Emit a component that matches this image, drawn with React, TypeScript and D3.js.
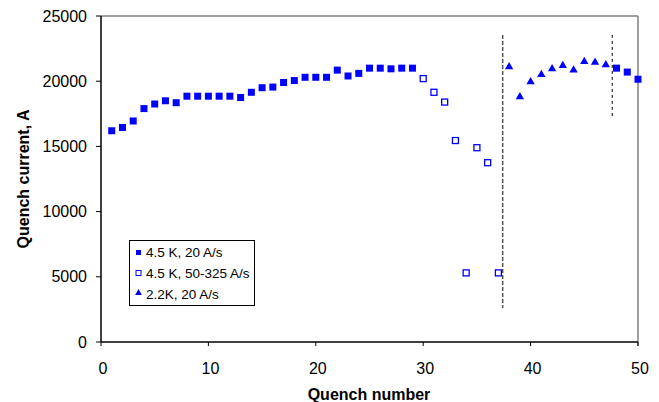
import React from "react";
import * as d3 from "d3";

const filledX = [1,2,3,4,5,6,7,8,9,10,11,12,13,14,15,16,17,18,19,20,21,22,23,24,25,26,27,28,29,48,49,50];
const filledY = [16200,16450,16950,17900,18250,18500,18350,18850,18850,18850,18850,18850,18750,19150,19500,19550,19900,20050,20300,20300,20300,20850,20400,20600,21000,21000,20950,21000,21000,21000,20700,20150];
const hollowX = [30,31,32,33,34,35,36,37];
const hollowY = [20200,19150,18400,15450,5300,14900,13750,5300];
const triX = [38,39,40,41,42,43,44,45,46,47];
const triY = [21100,18800,19950,20500,20950,21200,20850,21500,21450,21250];
const xTicks = [0,10,20,30,40,50];
const yTicks = [0,5000,10000,15000,20000,25000];
const legendLabels = ["4.5 K, 20 A/s", "4.5 K, 50-325 A/s", "2.2K, 20 A/s"];
const dividerX = [37.4, 47.6];
const dividerTop = [23550, 23550];
const dividerBottom = [2600, 17250];

const BLUE = "#0000ff";
const FONT = "'Liberation Sans', Arial, sans-serif";

export default function App() {
  const x = d3.scaleLinear().domain([0, 50]).range([101, 638]);
  const y = d3.scaleLinear().domain([0, 25000]).range([342, 16]);
  const tri = d3.symbol().type(d3.symbolTriangle).size(30)();
  const triSmall = d3.symbol().type(d3.symbolTriangle).size(20)();
  const sq = 7;

  return (
    <svg width={659} height={402} style={{ position: "absolute", left: 0, top: 0, background: "#fff" }}>
      {/* plot border top & right */}
      <line x1={x(0)} x2={x(50)} y1={y(25000)} y2={y(25000)} stroke="#808080" strokeWidth={1.5} />
      <line x1={x(50)} x2={x(50)} y1={y(25000)} y2={y(0) + 4} stroke="#808080" strokeWidth={1.5} />
      {/* divider lines */}
      <line x1={x(dividerX[0])} x2={x(dividerX[0])} y1={y(dividerTop[0])} y2={y(dividerBottom[0])} stroke="#555" strokeWidth={1.5} strokeDasharray="4,2" />
      <line x1={x(dividerX[1])} x2={x(dividerX[1])} y1={y(dividerTop[1])} y2={y(dividerBottom[1])} stroke="#000" strokeWidth={1} strokeDasharray="3,3" />
      {/* axes */}
      <line x1={x(0)} x2={x(0)} y1={y(25000)} y2={y(0)} stroke="#000" strokeWidth={1.5} />
      <line x1={x(0)} x2={x(50)} y1={y(0)} y2={y(0)} stroke="#000" strokeWidth={1.5} />
      {yTicks.map((t) => (
        <g key={"y" + t}>
          <line x1={x(0) - 5} x2={x(0)} y1={y(t)} y2={y(t)} stroke="#000" strokeWidth={1} />
          <text x={87} y={y(t)} dy="0.35em" textAnchor="end" fontFamily={FONT} fontSize={16}>{t}</text>
        </g>
      ))}
      {xTicks.map((t) => (
        <g key={"x" + t}>
          <line x1={x(t)} x2={x(t)} y1={y(0)} y2={y(0) + 4} stroke="#000" strokeWidth={1} />
          <text x={x(t) + 2} y={368} dy="0.35em" textAnchor="middle" fontFamily={FONT} fontSize={16}>{t}</text>
        </g>
      ))}
      <text x={369} y={394} dy="0.35em" textAnchor="middle" fontFamily={FONT} fontSize={16} fontWeight="bold">Quench number</text>
      <text transform={`translate(23,179) rotate(-90)`} textAnchor="middle" dy="0.35em" fontFamily={FONT} fontSize={16} fontWeight="bold">Quench current, A</text>
      {/* data */}
      {filledX.map((v, i) => (
        <rect key={"f" + i} x={x(v) - sq / 2} y={y(filledY[i]) - sq / 2} width={sq} height={sq} fill={BLUE} />
      ))}
      {hollowX.map((v, i) => (
        <rect key={"h" + i} x={x(v) - 3} y={y(hollowY[i]) - 3} width={6} height={6} fill="#fff" stroke={BLUE} strokeWidth={1.3} />
      ))}
      {triX.map((v, i) => (
        <path key={"t" + i} d={tri} transform={`translate(${x(v)},${y(triY[i])})`} fill={BLUE} />
      ))}
      {/* legend */}
      <rect x={129.5} y={240.5} width={125} height={65} fill="#fff" stroke="#000" strokeWidth={1} />
      <rect x={136} y={250} width={5} height={5} fill={BLUE} />
      <rect x={136} y={270.5} width={5} height={5} fill="#fff" stroke={BLUE} strokeWidth={1} />
      <path d={triSmall} transform="translate(138.5,293)" fill={BLUE} />
      {legendLabels.map((l, i) => (
        <text key={l} x={146} y={[252.7, 273, 294][i]} dy="0.35em" fontFamily={FONT} fontSize={13.5}>{l}</text>
      ))}
    </svg>
  );
}
